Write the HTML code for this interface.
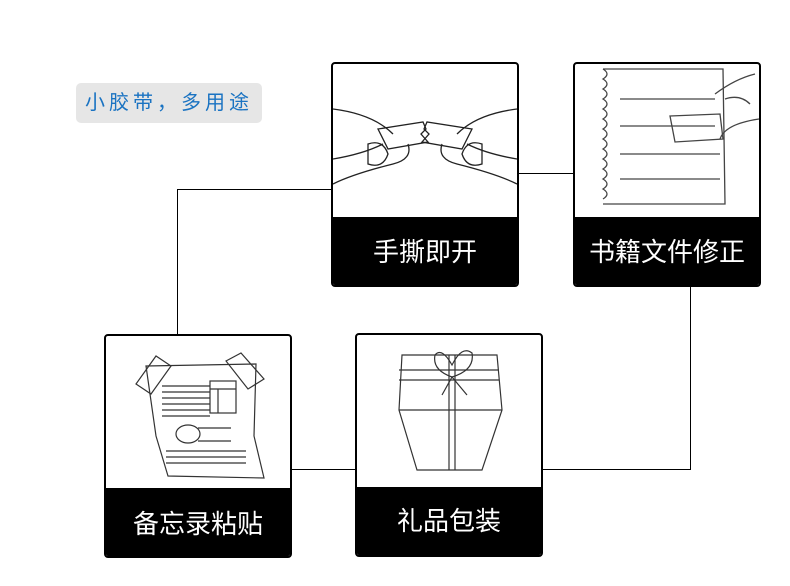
<!DOCTYPE html>
<html><head><meta charset="utf-8"><style>
body{margin:0;width:790px;height:586px;background:#fff;position:relative;overflow:hidden;font-family:"Liberation Sans","Noto Sans CJK SC",sans-serif}
.tag{position:absolute;left:76px;top:83px;width:186px;height:40px;background:#e6e6e6;border-radius:5px;color:#1a73c2;font-size:20px;letter-spacing:4px;line-height:40px;text-indent:9px}
.card{position:absolute;width:184px;border:2px solid #000;border-radius:4px;background:#fff;overflow:hidden;box-sizing:content-box}
.card .lbl{position:absolute;left:0;right:0;bottom:0;background:#000;color:#fff;font-size:26px;text-align:center}
svg.ill{position:absolute;left:0;top:0}
.ln{position:absolute;background:#000}
</style></head><body>
<div class="tag">小胶带，多用途</div>

<div class="ln" style="left:177px;top:189px;width:155px;height:1px"></div>
<div class="ln" style="left:177px;top:189px;width:1px;height:146px"></div>
<div class="ln" style="left:518px;top:173px;width:56px;height:1px"></div>
<div class="ln" style="left:690px;top:284px;width:1px;height:186px"></div>
<div class="ln" style="left:543px;top:469px;width:148px;height:1px"></div>
<div class="ln" style="left:292px;top:469px;width:64px;height:1px"></div>

<div class="card" style="left:331px;top:62px;height:221px">
<svg class="ill" width="184" height="155" fill="none" stroke="#222" stroke-width="1.3">
<path d="M0 45 Q40 50 60 70 M0 95 Q30 90 50 80 M0 120 Q20 110 60 100 Q80 95 75 80"/>
<path d="M45 65 L90 58 L93 65 L88 70 L95 78 L55 85 Z"/>
<path d="M35 80 Q50 75 55 90 Q50 105 35 100 Z"/>
<path d="M184 45 Q144 50 124 70 M184 95 Q154 90 134 80 M184 120 Q164 110 124 100 Q104 95 109 80"/>
<path d="M139 65 L94 58 L91 65 L96 70 L89 78 L129 85 Z"/>
<path d="M149 80 Q134 75 129 90 Q134 105 149 100 Z"/>
</svg>
<div class="lbl" style="height:68px;line-height:70px">手撕即开</div></div>

<div class="card" style="left:573px;top:62px;height:221px">
<svg class="ill" width="184" height="155" fill="none" stroke="#444" stroke-width="1.3">
<path d="M28 5 L148 5 L150 140 L28 140"/>
<path d="M28 5 q8 5 0 10 q8 5 0 10 q8 5 0 10 q8 5 0 10 q8 5 0 10 q8 5 0 10 q8 5 0 10 q8 5 0 10 q8 5 0 10 q8 5 0 10 q8 5 0 10 q8 5 0 10 q8 5 0 10"/>
<path d="M45 35 H140 M45 62 H140 M45 90 H145 M45 115 H145"/>
<path d="M95 52 L145 50 L148 75 L100 78 Z"/>
<path d="M140 30 Q160 15 180 10 M145 75 Q150 60 184 55 M150 35 Q165 30 175 40"/>
</svg>
<div class="lbl" style="height:68px;line-height:70px">书籍文件修正</div></div>

<div class="card" style="left:104px;top:334px;height:220px">
<svg class="ill" width="184" height="155" fill="none" stroke="#333" stroke-width="1.2">
<path d="M40 30 L150 28 L148 100 L158 142 L62 140 L50 100 Z"/>
<path d="M30 48 L50 20 L65 30 L45 58 Z M120 25 L135 17 L158 43 L142 53 Z"/>
<path d="M56 50 H104 M56 56 H104 M56 62 H104 M56 68 H104 M56 74 H104 M56 80 H104"/>
<rect x="104" y="45" width="26" height="32"/><path d="M104 53 H130 M112 53 V77"/>
<ellipse cx="82" cy="98" rx="12" ry="9"/><path d="M92 92 H125 M92 105 H125"/>
<path d="M60 115 H140 M60 121 H140 M60 127 H140"/>
</svg>
<div class="lbl" style="height:68px;line-height:72px">备忘录粘贴</div></div>

<div class="card" style="left:355px;top:333px;height:220px">
<svg class="ill" width="184" height="155" fill="none" stroke="#333" stroke-width="1.2">
<path d="M45 20 L140 20 L145 75 L125 135 L60 135 L42 75 Z M42 75 H145 M42 35 H142 M42 45 H142"/>
<path d="M92 20 V135 M98 20 V135"/>
<path d="M95 42 Q75 35 78 20 Q85 12 95 30 Q105 10 115 18 Q118 35 95 42 M95 42 L85 60 M95 42 L110 60"/>
</svg>
<div class="lbl" style="height:68px;line-height:68px">礼品包装</div></div>
</body></html>
